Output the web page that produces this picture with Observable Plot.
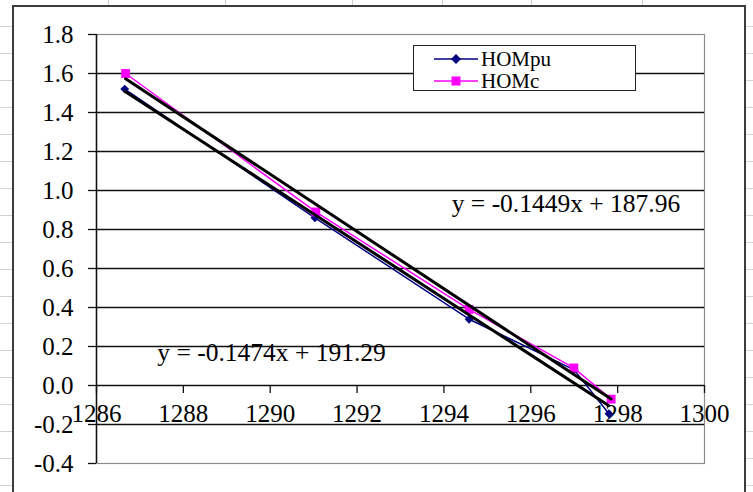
<!DOCTYPE html>
<html><head><meta charset="utf-8">
<script src="https://cdn.jsdelivr.net/npm/d3@7"></script>
<script src="https://cdn.jsdelivr.net/npm/@observablehq/plot@0.6"></script>
<style>
body{margin:0;background:#fff;}
#page{position:relative;width:753px;height:492px;overflow:hidden;background:#fff;
  background-image:repeating-linear-gradient(to bottom, transparent 0 26px, #d4d4d4 26px 27px);}
.vline{position:absolute;top:0;width:1px;height:6px;background:#d0d0d0;}
#frame{position:absolute;left:12px;top:5px;width:730px;height:500px;border:2px solid #3c3c3c;background:#fff;}
#chart{position:absolute;left:0;top:0;}
#legend{position:absolute;left:413px;top:45px;width:221px;height:44px;border:1.5px solid #222;background:#fff;
  font-family:"Liberation Serif","Times New Roman",serif;font-size:21px;color:#000;}
#legend .row{position:absolute;left:0;height:20px;display:flex;align-items:center;}
#legend svg{display:block;}
</style>
</head><body>
<div id="page">
  <div class="vline" style="left:108px"></div>
  <div class="vline" style="left:225px"></div>
  <div class="vline" style="left:352px"></div>
  <div class="vline" style="left:442px"></div>
  <div class="vline" style="left:531px"></div>
  <div class="vline" style="left:642px"></div>
  <div id="frame"></div>
  <div id="chart"></div>
  <div id="legend"></div>
</div>
<script>
// ---- data ----
const seriesNames = ["HOMpu", "HOMc"];
const hompuX = [1286.65, 1291.03, 1294.58, 1297.0, 1297.8];
const hompuY = [1.52, 0.86, 0.34, 0.08, -0.145];
const homcX = [1286.67, 1291.05, 1294.58, 1296.99, 1297.85];
const homcY = [1.60, 0.89, 0.39, 0.09, -0.07];
const xTicks = [1286, 1288, 1290, 1292, 1294, 1296, 1298, 1300];
const yTicks = [-0.4, -0.2, 0.0, 0.2, 0.4, 0.6, 0.8, 1.0, 1.2, 1.4, 1.6, 1.8];
const equations = ["y = -0.1449x + 187.96", "y = -0.1474x + 191.29"];

const colors = {HOMpu: "#000080", HOMc: "#ff00ff"};
const hompu = hompuX.map((x, i) => ({x, y: hompuY[i]}));
const homc = homcX.map((x, i) => ({x, y: homcY[i]}));
const inner = yTicks.slice(1, -1);
const font = "Liberation Serif";

const chart = Plot.plot({
  width: 753, height: 492,
  marginLeft: 96, marginRight: 49, marginTop: 34, marginBottom: 29,
  x: {domain: [1286, 1300], axis: null},
  y: {domain: [-0.4, 1.8], axis: null},
  style: {fontFamily: font, fontSize: "25px", color: "#000", background: "transparent", overflow: "visible"},
  marks: [
    Plot.frame({stroke: "#8c8c8c", strokeWidth: 1.2}),
    Plot.ruleY(inner, {stroke: "#111", strokeWidth: 1.3}),
    Plot.ruleX([xTicks[0]], {stroke: "#111", strokeWidth: 1.5}),
    Plot.axisY(yTicks, {tickSize: 8, tickPadding: 15, tickFormat: d => d.toFixed(1),
      fontSize: 25, fontFamily: font, stroke: "#111", strokeWidth: 1.3, label: null}),
    Plot.ruleX(xTicks, {x: d => d, y1: 0, y2: 0, insetTop: 0, insetBottom: -8, stroke: "#111", strokeWidth: 1.3}),
    Plot.text(xTicks, {x: d => d, y: 0, dy: 28, text: d => String(d), fontSize: 25, fontFamily: font, fill: "#000"}),
    Plot.line(hompu, {x: "x", y: "y", stroke: colors.HOMpu, strokeWidth: 1.5}),
    Plot.dot(hompu, {x: "x", y: "y", symbol: "diamond2", r: 4, fill: colors.HOMpu, stroke: "none"}),
    Plot.line(homc, {x: "x", y: "y", stroke: colors.HOMc, strokeWidth: 1.5}),
    Plot.dot(homc, {x: "x", y: "y", symbol: "square", r: 5, fill: colors.HOMc, stroke: "none"}),
    Plot.linearRegressionY(hompu, {x: "x", y: "y", stroke: "#000", strokeWidth: 3, ci: 0}),
    Plot.linearRegressionY(homc, {x: "x", y: "y", stroke: "#000", strokeWidth: 3, ci: 0}),
    Plot.text([equations[0]], {x: 1294.18, y: 0.93, text: d => d, textAnchor: "start", fontSize: 25.5, fontFamily: font, fill: "#000"}),
    Plot.text([equations[1]], {x: 1287.4, y: 0.165, text: d => d, textAnchor: "start", fontSize: 25.5, fontFamily: font, fill: "#000"})
  ]
});
document.getElementById("chart").appendChild(chart);

// legend
const legend = document.getElementById("legend");
seriesNames.forEach((name, i) => {
  const row = document.createElement("div");
  row.className = "row";
  row.style.top = (3 + i * 22) + "px";
  const sym = name === "HOMpu"
    ? `<path d="M42 5 L47 10 L42 15 L37 10 Z" fill="${colors[name]}"/>`
    : `<rect x="37.5" y="5.5" width="9" height="9" fill="${colors[name]}"/>`;
  row.innerHTML = `<svg width="66" height="20"><line x1="20" x2="64" y1="10" y2="10" stroke="${colors[name]}" stroke-width="1.5"/>` +
    sym + `</svg><span style="margin-left:1px">${name}</span>`;
  legend.appendChild(row);
});
</script>
</body></html>
